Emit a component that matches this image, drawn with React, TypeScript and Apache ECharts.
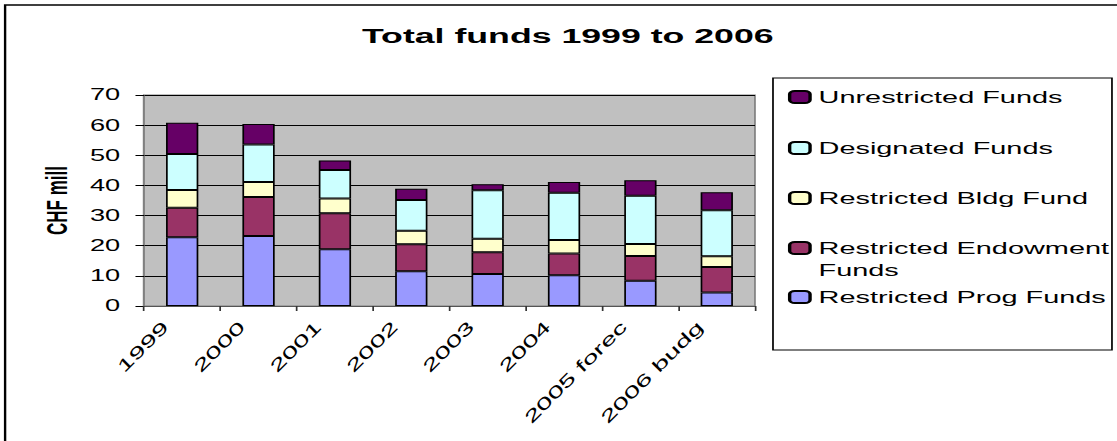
import React, { useEffect, useRef } from "react";
import * as echarts from "echarts";

// ---- data (CHF mill) ----
const categories = ["1999", "2000", "2001", "2002", "2003", "2004", "2005 forecast", "2006 budget"];
const restrictedProg = [22.8, 23.2, 18.8, 11.5, 10.6, 10.2, 8.4, 4.5];
const restrictedEndowment = [9.8, 13.0, 12.0, 9.0, 7.2, 7.2, 8.2, 8.4];
const restrictedBldg = [5.9, 4.9, 4.9, 4.5, 4.5, 4.5, 4.0, 3.6];
const designated = [11.9, 12.5, 9.4, 10.2, 16.1, 15.7, 16.0, 15.3];
const unrestricted = [10.4, 6.8, 3.2, 3.7, 2.0, 3.5, 5.1, 5.9];

const seriesNames = [
  "Restricted Prog Funds",
  "Restricted Endowment Funds",
  "Restricted Bldg Fund",
  "Designated Funds",
  "Unrestricted Funds",
];
const seriesData = [restrictedProg, restrictedEndowment, restrictedBldg, designated, unrestricted];
const seriesColors = ["#9999ff", "#993366", "#ffffcc", "#ccffff", "#660066"];

// ---- layout ----
const S = 1.7; // horizontal stretch of the reference picture
const W = Math.round(1117 / S);
const H = 441;
const FONT = "'Liberation Sans', Arial, sans-serif";
const legendCenters: Record<string, number> = {
  "Unrestricted Funds": 97,
  "Designated Funds": 148,
  "Restricted Bldg Fund": 198,
  "Restricted Endowment Funds": 248,
  "Restricted Prog Funds": 297,
};

// Transform so that, after the page's horizontal stretch, a category label
// reads at 45 degrees and is widened along its own baseline.
function labelTransform(stretch: number, phi: number) {
  const c = Math.cos(phi);
  const s = Math.sin(phi);
  const a00 = c, a01 = s / stretch, a10 = -stretch * s, a11 = c;
  const p = a00 * a00 + a10 * a10;
  const q = a00 * a01 + a10 * a11;
  const r = a01 * a01 + a11 * a11;
  const tr = p + r;
  const det = p * r - q * q;
  const disc = Math.sqrt(Math.max(0, (tr * tr) / 4 - det));
  const l1 = tr / 2 + disc;
  const l2 = tr / 2 - disc;
  const d1 = Math.sqrt(l1);
  const d2 = Math.sqrt(l2);
  let vx = l1 - r, vy = q;
  const n = Math.hypot(vx, vy) || 1;
  vx /= n; vy /= n;
  const beta = Math.atan2(vy, vx);
  const ux = (a00 * vx + a01 * vy) / d1;
  const uy = (a10 * vx + a11 * vy) / d1;
  const alpha = Math.atan2(-uy, ux);
  return { alpha, beta, d1, d2 };
}

export default function App() {
  const ref = useRef<HTMLDivElement>(null);
  useEffect(() => {
    const chart = echarts.init(ref.current!, null, { renderer: "svg" });
    const lt = labelTransform(S, Math.PI / 4);
    const legends = seriesNames.map((name) => {
      const two = name === "Restricted Endowment Funds";
      return {
        show: true,
        orient: "vertical",
        left: 463.5,
        top: two ? legendCenters[name] - 33 : legendCenters[name] - 10,
        padding: 0,
        itemWidth: 12,
        itemHeight: 12,
        itemGap: 0,
        selectedMode: false,
        data: [name],
        formatter: (nm: string) =>
          nm === "Restricted Endowment Funds" ? " \nRestricted Endowment\nFunds" : nm,
        textStyle: two
          ? { fontFamily: FONT, fontSize: 17, color: "#000", lineHeight: 22 }
          : { fontFamily: FONT, fontSize: 17, color: "#000", lineHeight: 20 },
      };
    });
    chart.setOption({
      animation: false,
      backgroundColor: "#ffffff",
      title: {
        text: "Total funds 1999 to 2006",
        left: 334,
        textAlign: "center",
        top: 25,
        padding: 0,
        textStyle: { fontFamily: FONT, fontSize: 21, fontWeight: "bold", color: "#000" },
      },
      legend: legends,
      graphic: [
        {
          type: "rect",
          shape: { x: 3, y: 5, width: 800, height: 600 },
          style: { fill: "none", stroke: "#000", lineWidth: 1.4 },
          silent: true,
        },
        {
          type: "rect",
          shape: { x: 454.7, y: 78, width: 199.4, height: 272 },
          style: { fill: "none", stroke: "#000", lineWidth: 1 },
          silent: true,
        },
      ],
      grid: {
        left: 84.7,
        top: 95,
        width: 359.4,
        height: 211,
        show: true,
        backgroundColor: "#c0c0c0",
        borderColor: "#808080",
        borderWidth: 1,
      },
      xAxis: {
        type: "category",
        data: categories,
        axisLine: { show: true, lineStyle: { color: "#555", width: 1 } },
        axisTick: { show: true, interval: 0, length: 5, lineStyle: { color: "#333" } },
        axisLabel: { show: false },
        splitLine: { show: false },
      },
      yAxis: {
        type: "value",
        min: 0,
        max: 70,
        interval: 10,
        name: "CHF mill",
        nameLocation: "middle",
        nameRotate: 90,
        nameGap: 39,
        nameTextStyle: { fontFamily: FONT, fontSize: 17, fontWeight: "bold", color: "#000" },
        axisLine: { show: true, lineStyle: { color: "#808080", width: 1 } },
        axisTick: { show: true, length: 5, lineStyle: { color: "#000" } },
        axisLabel: { margin: 14, fontFamily: FONT, fontSize: 16, color: "#000" },
        splitLine: { show: true, lineStyle: { color: "#000", width: 1 } },
      },
      series: [
        ...seriesNames.map((name, i) => ({
          name,
          type: "bar",
          stack: "total",
          barWidth: 19,
          data: seriesData[i],
          itemStyle: { color: seriesColors[i], borderColor: "#000", borderWidth: 1 },
          emphasis: { disabled: true },
        })),
        {
          name: "categoryLabels",
          type: "custom",
          silent: true,
          clip: false,
          z: 10,
          data: categories.map((_, i) => [i, 0]),
          encode: { x: 0, y: 1 },
          renderItem: (_params: any, api: any) => {
            const idx = api.value(0);
            const pt = api.coord([idx, 0]);
            return {
              type: "group",
              x: pt[0] - 16.5 / S,
              y: pt[1] + 18,
              rotation: lt.alpha,
              scaleX: lt.d1,
              scaleY: lt.d2,
              children: [
                {
                  type: "text",
                  rotation: lt.beta,
                  style: {
                    text: categories[idx],
                    x: 0,
                    y: 0,
                    align: "right",
                    verticalAlign: "middle",
                    fontFamily: FONT,
                    fontSize: 17,
                    fill: "#000",
                    width: 85,
                    overflow: "truncate",
                    ellipsis: "",
                  },
                },
              ],
            };
          },
        },
      ],
    });
    return () => chart.dispose();
  }, []);
  return (
    <div
      ref={ref}
      style={{
        position: "absolute",
        left: 0,
        top: 0,
        width: W,
        height: H,
        transform: `scaleX(${S})`,
        transformOrigin: "0 0",
        background: "#fff",
      }}
    />
  );
}
